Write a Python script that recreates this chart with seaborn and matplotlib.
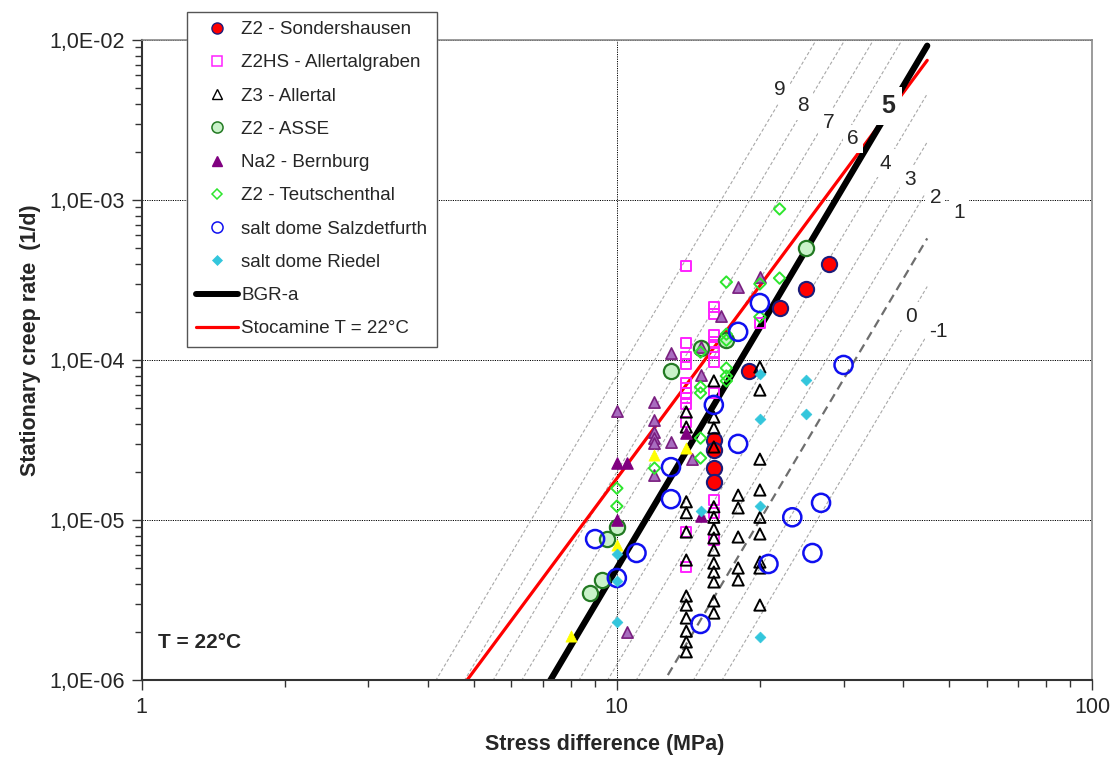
import numpy as np
import pandas as pd
import matplotlib
matplotlib.use("Agg")
import matplotlib.pyplot as plt
from matplotlib.lines import Line2D
from matplotlib.ticker import FuncFormatter, LogLocator, NullFormatter, FixedLocator
import seaborn as sns

sns.set_theme(style="white")
plt.rcParams['font.family'] = ['Liberation Sans', 'DejaVu Sans']

# ---------------- data (stress difference MPa, creep rate 1/d) ----------------
sond_stress = [16, 16, 16, 16, 19, 22, 25, 28]
sond_rate = [3.16e-5, 2.74e-5, 2.11e-5, 1.73e-5, 8.53e-5, 2.11e-4, 2.78e-4, 3.98e-4]

z2hs_stress = [14] * 12 + [16] * 11 + [20]
z2hs_rate = [3.87e-4, 1.28e-4, 1.04e-4, 9.44e-5, 7.18e-5, 6.68e-5, 6.22e-5, 5.79e-5, 5.31e-5, 4.10e-5, 8.41e-6, 5.09e-6,
             2.14e-4, 1.94e-4, 1.43e-4, 1.30e-4, 1.21e-4, 1.11e-4, 9.72e-5, 6.22e-5, 1.33e-5, 1.11e-5, 7.5e-6,
             1.70e-4]

z3_stress = [14] * 12 + [16] * 14 + [18] * 5 + [20] * 9
z3_rate = [4.73e-5, 3.81e-5, 1.30e-5, 1.11e-5, 8.41e-6, 5.62e-6, 3.35e-6, 2.94e-6, 2.44e-6, 2.02e-6, 1.73e-6, 1.50e-6,
           7.40e-5, 4.40e-5, 3.76e-5, 2.86e-5, 1.21e-5, 1.04e-5, 8.79e-6, 7.72e-6, 6.49e-6, 5.38e-6, 4.73e-6, 4.10e-6,
           3.12e-6, 2.62e-6,
           1.43e-5, 1.19e-5, 7.83e-6, 5.01e-6, 4.22e-6,
           9.04e-5, 6.49e-5, 2.40e-5, 1.54e-5, 1.04e-5, 8.18e-6, 5.46e-6, 5.01e-6, 2.94e-6]

asse_stress = [10, 9.53, 9.3, 8.79, 13, 15, 17, 25]
asse_rate = [9.04e-6, 7.60e-6, 4.22e-6, 3.50e-6, 8.53e-5, 1.19e-4, 1.33e-4, 5.01e-4]

na2_stress = [10, 12, 12, 12, 12, 12, 12, 13, 13, 15, 15, 16.6, 18, 20, 14.4, 10.5]
na2_rate = [4.80e-5, 5.46e-5, 4.22e-5, 3.55e-5, 3.25e-5, 3.03e-5, 1.91e-5, 1.11e-4, 3.07e-5, 1.21e-4, 8.06e-5,
            1.88e-4, 2.86e-4, 3.30e-4, 2.40e-5, 2.0e-6]
na2b_stress = [10, 10.5, 14, 10, 15]
na2b_rate = [2.27e-5, 2.27e-5, 3.50e-5, 1.0e-5, 1.06e-5]

teut_stress = [10, 10, 12, 15, 15, 15, 15, 15, 17, 17, 17, 17, 17, 17, 20, 20, 22, 22]
teut_rate = [1.58e-5, 1.22e-5, 2.11e-5, 1.12e-4, 6.78e-5, 6.22e-5, 3.25e-5, 2.44e-5, 3.07e-4, 1.45e-4, 1.33e-4,
             8.91e-5, 7.94e-5, 7.40e-5, 2.99e-4, 1.86e-4, 8.79e-4, 3.25e-4]

salz_stress = [13, 13, 9.0, 11, 10, 15, 16, 18, 18, 20, 20.85, 23.4, 25.8, 26.9, 30]
salz_rate = [2.14e-5, 1.35e-5, 7.60e-6, 6.22e-6, 4.34e-6, 2.24e-6, 5.24e-5, 1.50e-4, 2.99e-5, 2.27e-4, 5.31e-6,
             1.04e-5, 6.22e-6, 1.28e-5, 9.31e-5]

ried_stress = [10, 10, 10, 15, 20, 20, 20, 20, 25, 25]
ried_rate = [6.13e-6, 4.16e-6, 2.30e-6, 1.14e-5, 8.18e-5, 4.27e-5, 1.22e-5, 1.86e-6, 7.50e-5, 4.60e-5]

other_stress = [8.0, 10, 12, 14]
other_rate = [1.88e-6, 6.98e-6, 2.55e-5, 2.82e-5]

# model lines
BGR_A = 0.18          # 1/d
BGR_Q = 54000.0       # J/mol
R_GAS = 8.314
T_K = 295.15
BGR_N = 5
STOC_B = 1.82e-9
STOC_N = 4
LINE_STRESS = [3.0, 45.0]
CLASSES = [9, 8, 7, 6, 4, 3, 2, 1, 0, -1]

label_text = ["9", "8", "7", "6", "5", "4", "3", "2", "1", "0", "-1"]
label_stress = [22.07, 24.67, 27.86, 31.44, 37.25, 36.71, 41.45, 46.79, 52.56, 41.65, 47.48]
label_rate = [4.94e-3, 3.87e-3, 3.03e-3, 2.41e-3, 3.87e-3, 1.70e-3, 1.35e-3, 1.03e-3, 8.3e-4, 1.88e-4, 1.50e-4]

# ---------------- figure ----------------
fig = plt.figure(figsize=(11.17, 7.61), dpi=100)
ax = fig.add_axes([141.7 / 1117, 1 - 680 / 761, (1092 - 141.7) / 1117, 640 / 761])
ax.set_xscale('log')
ax.set_yscale('log')

s_line = np.array(LINE_STRESS)
bgr_coef = BGR_A * np.exp(-BGR_Q / (R_GAS * T_K))
bgr_rate = bgr_coef * s_line ** BGR_N
stoc_rate = STOC_B * s_line ** STOC_N

for k in CLASSES:
    r = bgr_rate * 2.0 ** (k - 5)
    if k == 1:
        sns.lineplot(x=s_line, y=r, ax=ax, color='#6e6e6e', linewidth=1.6,
                     linestyle=(0, (4, 2.5)), zorder=1, estimator=None, sort=False)
    else:
        sns.lineplot(x=s_line, y=r, ax=ax, color='#a8a8a8', linewidth=0.8,
                     linestyle=(0, (3, 2)), zorder=1, estimator=None, sort=False)

sns.lineplot(x=s_line, y=stoc_rate, ax=ax, color='#ff0000', linewidth=2.3, zorder=2,
             estimator=None, sort=False)
sns.lineplot(x=s_line, y=bgr_rate, ax=ax, color='black', linewidth=4.5, zorder=2.1,
             estimator=None, sort=False)

for t, xs, ys in zip(label_text, label_stress, label_rate):
    bold = (t == "5")
    ax.text(xs, ys, t, ha='center', va='center', fontsize=18 if bold else 15,
            fontweight='bold' if bold else 'normal', zorder=3,
            bbox=dict(facecolor='white', edgecolor='none', pad=5 if bold else 3))

# scatter series
sns.scatterplot(x=sond_stress, y=sond_rate, ax=ax, marker='o', s=120, color='#ff0000',
                edgecolor='#1c1c7a', linewidth=1.5, zorder=4)
sns.scatterplot(x=z2hs_stress, y=z2hs_rate, ax=ax, marker='s', s=55, facecolor='none',
                edgecolor='#ff22ff', linewidth=1.4, zorder=4.1)
sns.scatterplot(x=z3_stress, y=z3_rate, ax=ax, marker='^', s=65, facecolor='none',
                edgecolor='black', linewidth=1.4, zorder=4.2)
sns.scatterplot(x=asse_stress, y=asse_rate, ax=ax, marker='o', s=120, color='#c9f2c9',
                edgecolor='#237a23', linewidth=1.6, zorder=4.3)
sns.scatterplot(x=na2_stress, y=na2_rate, ax=ax, marker='^', s=65, color='#a86cbf',
                edgecolor='#7a1f80', linewidth=1.2, zorder=4.4)
sns.scatterplot(x=na2b_stress, y=na2b_rate, ax=ax, marker='^', s=65, color='#800080',
                edgecolor='#800080', linewidth=1.0, zorder=4.4)
sns.scatterplot(x=other_stress, y=other_rate, ax=ax, marker='^', s=65, color='#ffff00',
                edgecolor='#ffff00', linewidth=0.5, zorder=4.45)
sns.scatterplot(x=teut_stress, y=teut_rate, ax=ax, marker='D', s=34, facecolor='none',
                edgecolor='#2ee62e', linewidth=1.4, zorder=4.5)
sns.scatterplot(x=salz_stress, y=salz_rate, ax=ax, marker='o', s=170, facecolor='none',
                edgecolor='#1010f0', linewidth=1.8, zorder=4.6)
sns.scatterplot(x=ried_stress, y=ried_rate, ax=ax, marker='D', s=30, color='#33c6dc',
                edgecolor='#33c6dc', linewidth=0.5, zorder=4.7)

# axes formatting
ax.set_xlim(1, 100)
ax.set_ylim(1e-6, 1e-2)
ax.xaxis.set_major_locator(FixedLocator([1, 10, 100]))
ax.xaxis.set_major_formatter(FuncFormatter(lambda v, p: f"{int(round(v))}"))
ax.xaxis.set_minor_locator(LogLocator(base=10, subs=np.arange(2, 10)))
ax.xaxis.set_minor_formatter(NullFormatter())
ax.yaxis.set_major_locator(FixedLocator([1e-6, 1e-5, 1e-4, 1e-3, 1e-2]))
ax.yaxis.set_major_formatter(FuncFormatter(lambda v, p: f"1,0E-{int(round(-np.log10(v))):02d}"))
ax.yaxis.set_minor_locator(LogLocator(base=10, subs=np.arange(2, 10)))
ax.yaxis.set_minor_formatter(NullFormatter())
ax.tick_params(which='both', direction='out', bottom=True, left=True, top=False, right=False,
               color='#333333', width=1)
ax.tick_params(which='major', length=7, labelsize=15.5, pad=5)
ax.tick_params(which='minor', length=5)

ax.grid(True, which='major', color='black', linestyle=(0, (1.2, 1.2)), linewidth=0.7)
ax.set_axisbelow(True)
for side in ['left', 'bottom']:
    ax.spines[side].set_color('#333333')
    ax.spines[side].set_linewidth(1.5)
for side in ['top', 'right']:
    ax.spines[side].set_color('#8a8a8a')
    ax.spines[side].set_linewidth(1.2)

ax.set_xlabel("Stress difference (MPa)", fontsize=15.5, fontweight='bold')
ax.set_ylabel("Stationary creep rate  (1/d)", fontsize=15.5, fontweight='bold')
ax.xaxis.set_label_coords((605 - 141.7) / 950.3, -0.084)
ax.yaxis.set_label_coords((41 - 141.7) / 950.3, 0.531)

ax.text(0.017, 0.058, "T = 22°C", transform=ax.transAxes, fontsize=15, fontweight='bold',
        ha='left', va='center', zorder=5)

handles = [
    Line2D([], [], ls='none', marker='o', ms=8, mfc='#ff0000', mec='#1c1c7a', mew=1.0),
    Line2D([], [], ls='none', marker='s', ms=6.5, mfc='none', mec='#ff22ff', mew=1.1),
    Line2D([], [], ls='none', marker='^', ms=7, mfc='none', mec='black', mew=1.0),
    Line2D([], [], ls='none', marker='o', ms=8, mfc='#c9f2c9', mec='#237a23', mew=1.1),
    Line2D([], [], ls='none', marker='^', ms=7.5, mfc='#800080', mec='#800080', mew=1.0),
    Line2D([], [], ls='none', marker='D', ms=5.5, mfc='none', mec='#2ee62e', mew=1.1),
    Line2D([], [], ls='none', marker='o', ms=8, mfc='none', mec='#1010f0', mew=1.1),
    Line2D([], [], ls='none', marker='D', ms=5.5, mfc='#33c6dc', mec='#33c6dc', mew=0.5),
    Line2D([], [], color='black', lw=4.3),
    Line2D([], [], color='#ff0000', lw=2.3),
]
labels = ["Z2 - Sondershausen", "Z2HS - Allertalgraben", "Z3 - Allertal", "Z2 - ASSE",
          "Na2 - Bernburg", "Z2 - Teutschenthal", "salt dome Salzdetfurth", "salt dome Riedel",
          "BGR-a", "Stocamine T = 22°C"]
leg = ax.legend(handles, labels, loc='upper left', bbox_to_anchor=(187 / 1117, 1 - 11.7 / 761),
                bbox_transform=fig.transFigure, borderaxespad=0, frameon=True, fancybox=False,
                edgecolor='#555555', fontsize=13.5, handlelength=2.2, handletextpad=0.2,
                labelspacing=0.86, borderpad=0.5, framealpha=1)
leg.get_frame().set_linewidth(1.0)
leg.set_zorder(10)

fig.savefig("out.png", dpi=100)
